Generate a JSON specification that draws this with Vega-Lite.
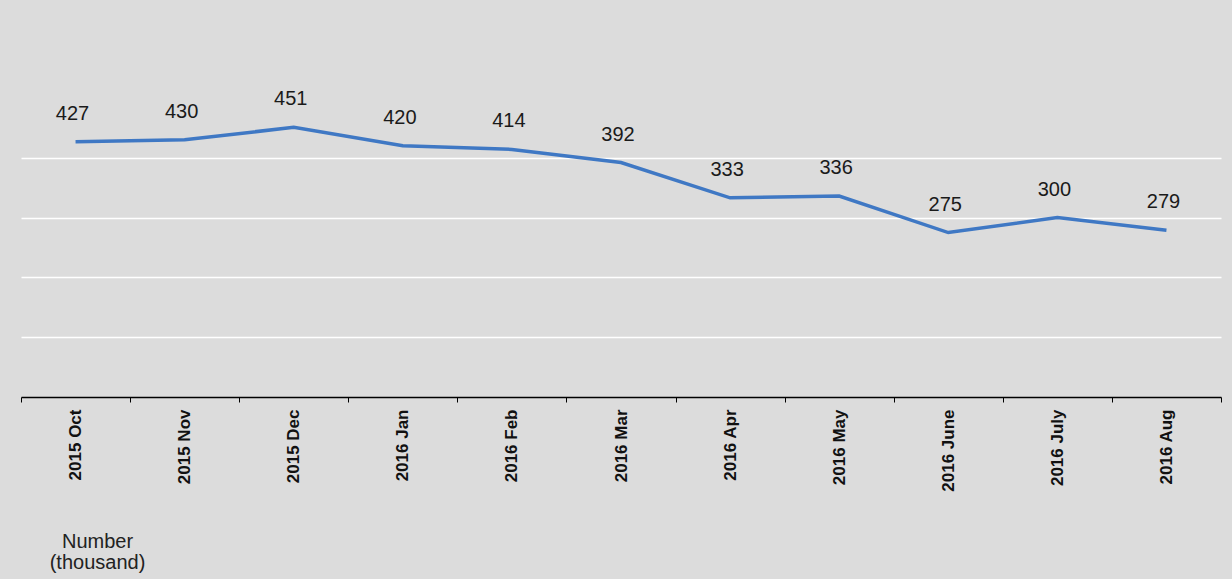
{
  "$schema": "https://vega.github.io/schema/vega-lite/v6.json",
  "autosize": {"type": "none"},
  "width": 1200,
  "height": 299,
  "padding": {"left": 21, "top": 98, "right": 11, "bottom": 182},
  "background": "#dcdcdc",
  "config": {"view": {"stroke": null, "fill": "#dcdcdc"}},
  "data": {
    "values": [
      {"month": "2015 Oct", "value": 427},
      {"month": "2015 Nov", "value": 430},
      {"month": "2015 Dec", "value": 451},
      {"month": "2016 Jan", "value": 420},
      {"month": "2016 Feb", "value": 414},
      {"month": "2016 Mar", "value": 392},
      {"month": "2016 Apr", "value": 333},
      {"month": "2016 May", "value": 336},
      {"month": "2016 June", "value": 275},
      {"month": "2016 July", "value": 300},
      {"month": "2016 Aug", "value": 279}
    ]
  },
  "encoding": {
    "x": {
      "field": "month",
      "type": "ordinal",
      "sort": null,
      "scale": {"type": "band", "paddingInner": 0, "paddingOuter": 0},
      "axis": {
        "title": null,
        "labelAngle": -90,
        "labelFont": "Liberation Sans",
        "labelFontWeight": "bold",
        "labelFontSize": 17,
        "labelColor": "#111111",
        "labelPadding": 7,
        "tickBand": "extent",
        "tickColor": "#000000",
        "tickSize": 5,
        "domainColor": "#000000",
        "domainWidth": 1.5,
        "grid": false
      }
    },
    "y": {
      "field": "value",
      "type": "quantitative",
      "scale": {"domain": [0, 500], "nice": false},
      "axis": {
        "title": ["Number", "(thousand)"],
        "titleAngle": 0,
        "titleAlign": "center",
        "titleBaseline": "top",
        "titleX": 76,
        "titleY": 433,
        "titleFont": "Liberation Sans",
        "titleFontWeight": "normal",
        "titleFontSize": 20,
        "titleLineHeight": 21,
        "titleColor": "#222222",
        "values": [100, 200, 300, 400],
        "labels": false,
        "ticks": false,
        "domain": false,
        "grid": true,
        "gridColor": "#ffffff",
        "gridWidth": 1.5
      }
    }
  },
  "layer": [
    {
      "mark": {"type": "line", "color": "#3f78c4", "strokeWidth": 3.5}
    },
    {
      "mark": {
        "type": "text",
        "font": "Liberation Sans",
        "fontSize": 20,
        "color": "#1a1a1a",
        "baseline": "middle",
        "dy": -28,
        "dx": -3
      },
      "encoding": {"text": {"field": "value", "type": "quantitative"}}
    }
  ]
}
